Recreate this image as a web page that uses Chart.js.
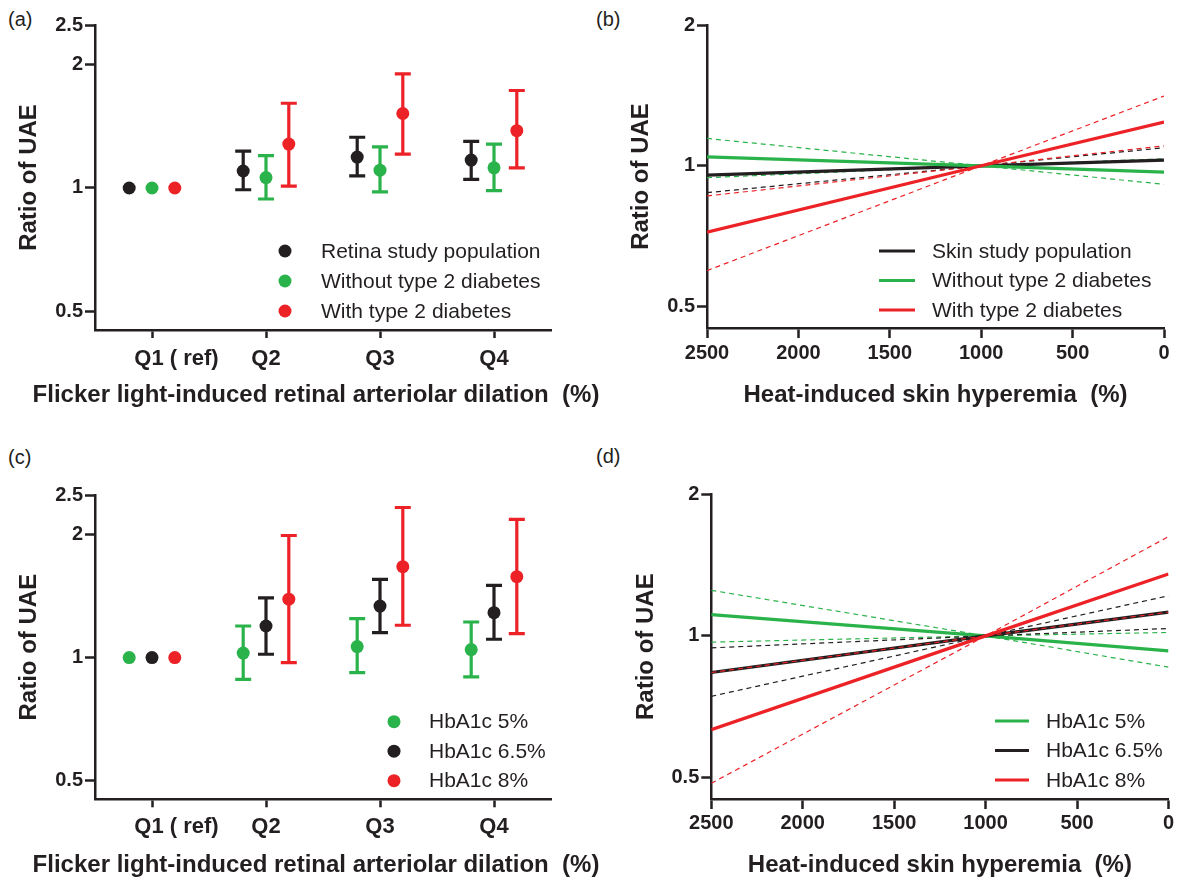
<!DOCTYPE html>
<html><head><meta charset="utf-8">
<script src="https://cdn.jsdelivr.net/npm/chart.js@4.4.1/dist/chart.umd.min.js"></script>
<style>
body{margin:0;width:1179px;height:881px;background:#fff;position:relative;overflow:hidden;font-family:"Liberation Sans",Arial,sans-serif}
.pn{position:absolute}
.lbl{position:absolute;font-size:20px;line-height:22px;color:#231f20}
</style></head><body>
<div class="lbl" style="left:8px;top:8px">(a)</div>
<div class="lbl" style="left:596px;top:8px">(b)</div>
<div class="lbl" style="left:8px;top:446px">(c)</div>
<div class="lbl" style="left:596px;top:445px">(d)</div>
<canvas class="pn" id="ca" width="620" height="440" style="left:0;top:0"></canvas>
<canvas class="pn" id="cb" width="589" height="440" style="left:590px;top:0"></canvas>
<canvas class="pn" id="cc" width="620" height="441" style="left:0;top:440px"></canvas>
<canvas class="pn" id="cd" width="589" height="441" style="left:590px;top:440px"></canvas>
<script>
// ---------- data ----------
const quartileLabels = ['        Q1 ( ref)', 'Q2', 'Q3', 'Q4'];
const ratioTicksAC = [0.5, 1, 2, 2.5];
const ratioTicksBD = [0.5, 1, 2];
const skinTicks = [2500, 2000, 1500, 1000, 500, 0];

// panel (a)
const aRetina   = [1, 1.10, 1.19, 1.17];
const aRetinaLo = [1, 0.99, 1.07, 1.05];
const aRetinaHi = [1, 1.23, 1.33, 1.30];
const aNoDM     = [1, 1.06, 1.105, 1.12];
const aNoDMLo   = [1, 0.94, 0.978, 0.985];
const aNoDMHi   = [1, 1.20, 1.26, 1.28];
const aDM       = [1, 1.28, 1.52, 1.38];
const aDMLo     = [1, 1.01, 1.21, 1.12];
const aDMHi     = [1, 1.61, 1.90, 1.73];

// panel (c)
const cHb5    = [1, 1.026, 1.064, 1.046];
const cHb5Lo  = [1, 0.885, 0.919, 0.897];
const cHb5Hi  = [1, 1.195, 1.245, 1.222];
const cHb65   = [1, 1.195, 1.337, 1.288];
const cHb65Lo = [1, 1.019, 1.151, 1.109];
const cHb65Hi = [1, 1.40, 1.554, 1.502];
const cHb8    = [1, 1.39, 1.669, 1.578];
const cHb8Lo  = [1, 0.972, 1.20, 1.145];
const cHb8Hi  = [1, 1.99, 2.33, 2.18];

// panels (b),(d): x = heat-induced skin hyperemia (%)
const skinX = [2500, 1000, 0];
const bPop     = [0.955, 1, 1.028];
const bPopCI   = [0.876, 1, 1.093];
const bNoDM    = [1.045, 1, 0.969];
const bNoDMCI1 = [1.144, 1, 0.913];
const bNoDMCI2 = [0.943, 1, 1.035];
const bDM      = [0.721, 1, 1.24];
const bDMCI1   = [0.597, 1, 1.41];
const bDMCI2   = [0.862, 1, 1.103];

const dHb5     = [1.11, 1, 0.929];
const dHb5CI1  = [1.25, 1, 0.858];
const dHb5CI2  = [0.970, 1, 1.017];
const dHb65    = [0.836, 1, 1.123];
const dHb65CI1 = [0.744, 1, 1.217];
const dHb65CI2 = [0.943, 1, 1.037];
const dHb8     = [0.632, 1, 1.354];
const dHb8CI1  = [0.486, 1, 1.626];
const dHb8CI2  = [0.836, 1, 1.123];

const retinaTitle = 'Flicker light-induced retinal arteriolar dilation  (%)';

// ---------- style ----------
const BLACK = '#231f20', GREEN = '#2bb34b', RED = '#ec2227';
const FAM = '"Liberation Sans", Arial, sans-serif';
Chart.defaults.font.family = FAM;
Chart.defaults.color = BLACK;

const errorBars = {
  id: 'errorBars',
  beforeDatasetsDraw(chart) {
    const {ctx, scales: {x, y}} = chart;
    chart.data.datasets.forEach(ds => {
      if (!ds.errLo) return;
      ctx.save();
      ctx.strokeStyle = ds.backgroundColor;
      ctx.lineWidth = 3.2;
      ctx.lineCap = 'butt';
      ds.data.forEach((p, i) => {
        const lo = ds.errLo[i], hi = ds.errHi[i];
        if (lo === hi) return;
        const px = x.getPixelForValue(p.x);
        const yl = y.getPixelForValue(lo), yh = y.getPixelForValue(hi);
        ctx.beginPath();
        ctx.moveTo(px, yl); ctx.lineTo(px, yh);
        ctx.moveTo(px - 8, yl); ctx.lineTo(px + 8, yl);
        ctx.moveTo(px - 8, yh); ctx.lineTo(px + 8, yh);
        ctx.stroke();
      });
      ctx.restore();
    });
  }
};

const panelLegend = {
  id: 'panelLegend',
  afterDraw(chart, args, o) {
    if (!o || !o.items) return;
    const ctx = chart.ctx;
    ctx.save();
    ctx.font = '21px ' + FAM;
    ctx.textBaseline = 'middle';
    ctx.textAlign = 'left';
    o.items.forEach((it, i) => {
      const y = o.y0 + i * o.dy;
      if (o.kind === 'dot') {
        ctx.fillStyle = it.color;
        ctx.beginPath(); ctx.arc(o.mx, y, 6.5, 0, Math.PI * 2); ctx.fill();
      } else {
        ctx.strokeStyle = it.color; ctx.lineWidth = 3;
        ctx.beginPath(); ctx.moveTo(o.mx, y); ctx.lineTo(o.mx2, y); ctx.stroke();
      }
      ctx.fillStyle = BLACK;
      ctx.fillText(it.label, o.tx, y + 1);
    });
    ctx.restore();
  }
};

// x-axis title drawn at natural width (wider than the axis, as in the figure)
const wideTitle = {
  id: 'wideTitle',
  afterDraw(chart, args, o) {
    if (!o || !o.text) return;
    const ctx = chart.ctx;
    ctx.save();
    ctx.font = 'bold 24px ' + FAM;
    ctx.fillStyle = BLACK;
    ctx.textAlign = 'center';
    ctx.textBaseline = 'middle';
    ctx.fillText(o.text, o.cx, o.cy);
    ctx.restore();
  }
};

function yAxis(max, tickVals, width, titlePadTop) {
  return {
    type: 'logarithmic', min: 0.45, max: max,
    afterBuildTicks: s => { s.ticks = tickVals.map(v => ({value: v})); },
    afterFit: s => { s.width = width; },
    ticks: { callback: v => String(v), font: {size: 20, weight: 'bold'}, color: BLACK, padding: 2, autoSkip: false },
    grid: { display: true, drawOnChartArea: false, drawTicks: true, tickLength: 10, tickWidth: 2.5, tickColor: BLACK },
    border: { display: true, color: BLACK, width: 2.5 },
    title: { display: true, text: 'Ratio of UAE', font: {size: 24, weight: 'bold'}, color: BLACK, padding: {top: titlePadTop, bottom: 0} }
  };
}

function xQuartile(height, labelPad) {
  return {
    type: 'linear', min: 0.5, max: 4.5,
    afterBuildTicks: s => { s.ticks = [1, 2, 3, 4].map(v => ({value: v})); },
    afterFit: s => { s.height = height; },
    ticks: { callback: (v, i) => quartileLabels[i], font: {size: 22, weight: 'bold'}, color: BLACK, padding: labelPad, maxRotation: 0, autoSkip: false },
    grid: { display: true, drawOnChartArea: false, drawTicks: true, tickLength: 8, tickWidth: 2.5, tickColor: BLACK },
    border: { display: true, color: BLACK, width: 2.5 },
    title: { display: false }
  };
}

function xSkin(height, labelPad, titlePadBottom) {
  return {
    type: 'linear', min: 0, max: 2500, reverse: true,
    afterBuildTicks: s => { s.ticks = skinTicks.map(v => ({value: v})); },
    afterFit: s => { s.height = height; },
    ticks: { callback: v => String(v), font: {size: 20, weight: 'bold'}, color: BLACK, padding: labelPad, maxRotation: 0, autoSkip: false },
    grid: { display: true, drawOnChartArea: false, drawTicks: true, tickLength: 10, tickWidth: 2.5, tickColor: BLACK },
    border: { display: true, color: BLACK, width: 2.5 },
    title: { display: true, text: 'Heat-induced skin hyperemia  (%)', font: {size: 24, weight: 'bold'}, color: BLACK, padding: {top: 0, bottom: titlePadBottom} }
  };
}

function dotSet(label, vals, lo, hi, color, off) {
  return {
    label: label, type: 'scatter',
    data: vals.map((v, i) => ({x: i + 1 + off, y: v})),
    errLo: lo, errHi: hi,
    backgroundColor: color, borderColor: color,
    pointRadius: 6.5, pointHoverRadius: 6.5, borderWidth: 0, showLine: false
  };
}

function lineSet(label, vals, color, dashed, order) {
  return {
    label: label, type: 'line',
    data: skinX.map((x, i) => ({x: x, y: vals[i]})),
    borderColor: color, backgroundColor: color,
    borderWidth: dashed ? 1.2 : 3.2,
    borderDash: dashed ? [5, 4] : [],
    pointRadius: 0, tension: 0, fill: false, order: order
  };
}

const common = {
  responsive: false, animation: false, devicePixelRatio: 1,
  plugins: { legend: {display: false}, tooltip: {enabled: false} }
};

// (a)
new Chart(document.getElementById('ca'), {
  type: 'scatter',
  data: { datasets: [
    dotSet('Retina study population', aRetina, aRetinaLo, aRetinaHi, BLACK, -0.2),
    dotSet('Without type 2 diabetes', aNoDM, aNoDMLo, aNoDMHi, GREEN, 0),
    dotSet('With type 2 diabetes', aDM, aDMLo, aDMHi, RED, 0.2)
  ]},
  options: Object.assign({}, common, {
    layout: {padding: {left: 0, top: 25, right: 69, bottom: 0}},
    scales: { x: xQuartile(110, 8), y: yAxis(2.5, ratioTicksAC, 95, 15.3) },
    plugins: Object.assign({}, common.plugins, {
      wideTitle: { text: retinaTitle, cx: 316, cy: 395 },
      panelLegend: {
        kind: 'dot', mx: 285, tx: 321, y0: 251, dy: 30,
        items: [{label: 'Retina study population', color: BLACK}, {label: 'Without type 2 diabetes', color: GREEN}, {label: 'With type 2 diabetes', color: RED}]
      }
    })
  }),
  plugins: [errorBars, panelLegend, wideTitle]
});

// (c)
new Chart(document.getElementById('cc'), {
  type: 'scatter',
  data: { datasets: [
    dotSet('HbA1c 5%', cHb5, cHb5Lo, cHb5Hi, GREEN, -0.2),
    dotSet('HbA1c 6.5%', cHb65, cHb65Lo, cHb65Hi, BLACK, 0),
    dotSet('HbA1c 8%', cHb8, cHb8Lo, cHb8Hi, RED, 0.2)
  ]},
  options: Object.assign({}, common, {
    layout: {padding: {left: 0, top: 55, right: 69, bottom: 0}},
    scales: { x: xQuartile(81.7, 6.2), y: yAxis(2.5, ratioTicksAC, 95, 15.3) },
    plugins: Object.assign({}, common.plugins, {
      wideTitle: { text: retinaTitle, cx: 316, cy: 425 },
      panelLegend: {
        kind: 'dot', mx: 394, tx: 429, y0: 281.7, dy: 29.5,
        items: [{label: 'HbA1c 5%', color: GREEN}, {label: 'HbA1c 6.5%', color: BLACK}, {label: 'HbA1c 8%', color: RED}]
      }
    })
  }),
  plugins: [errorBars, panelLegend, wideTitle]
});

// (b)
new Chart(document.getElementById('cb'), {
  type: 'line',
  data: { datasets: [
    lineSet('With type 2 diabetes', bDM, RED, false, 1),
    lineSet('Without type 2 diabetes', bNoDM, GREEN, false, 2),
    lineSet('Skin study population', bPop, BLACK, false, 3),
    lineSet('With type 2 diabetes CI', bDMCI1, RED, true, 4),
    lineSet('With type 2 diabetes CI', bDMCI2, RED, true, 5),
    lineSet('Without type 2 diabetes CI', bNoDMCI1, GREEN, true, 6),
    lineSet('Without type 2 diabetes CI', bNoDMCI2, GREEN, true, 7),
    lineSet('Skin study population CI', bPopCI, BLACK, true, 8)
  ]},
  options: Object.assign({}, common, {
    layout: {padding: {left: 0, top: 25, right: 15, bottom: 0}},
    scales: { x: xSkin(112, 3, 30.6), y: yAxis(2, ratioTicksBD, 117, 36.6) },
    plugins: Object.assign({}, common.plugins, { panelLegend: {
      kind: 'line', mx: 289, mx2: 325, tx: 342, y0: 251, dy: 29.5,
      items: [{label: 'Skin study population', color: BLACK}, {label: 'Without type 2 diabetes', color: GREEN}, {label: 'With type 2 diabetes', color: RED}]
    }})
  }),
  plugins: [panelLegend]
});

// (d)
new Chart(document.getElementById('cd'), {
  type: 'line',
  data: { datasets: [
    lineSet('HbA1c 8%', dHb8, RED, false, 2),
    lineSet('HbA1c 8% CI', dHb8CI2, RED, true, 1),
    lineSet('HbA1c 6.5%', dHb65, BLACK, false, 3),
    lineSet('HbA1c 5%', dHb5, GREEN, false, 4),
    lineSet('HbA1c 8% CI', dHb8CI1, RED, true, 5),
    lineSet('HbA1c 6.5% CI', dHb65CI1, BLACK, true, 6),
    lineSet('HbA1c 6.5% CI', dHb65CI2, BLACK, true, 7),
    lineSet('HbA1c 5% CI', dHb5CI1, GREEN, true, 8),
    lineSet('HbA1c 5% CI', dHb5CI2, GREEN, true, 9)
  ]},
  options: Object.assign({}, common, {
    layout: {padding: {left: 0, top: 54.3, right: 10.5, bottom: 0}},
    scales: { x: xSkin(82, 2.3, 1.6), y: yAxis(2, ratioTicksBD, 121.3, 42.4) },
    plugins: Object.assign({}, common.plugins, { panelLegend: {
      kind: 'line', mx: 405, mx2: 439, tx: 456, y0: 281, dy: 29.5,
      items: [{label: 'HbA1c 5%', color: GREEN}, {label: 'HbA1c 6.5%', color: BLACK}, {label: 'HbA1c 8%', color: RED}]
    }})
  }),
  plugins: [panelLegend]
});
</script>
</body></html>
